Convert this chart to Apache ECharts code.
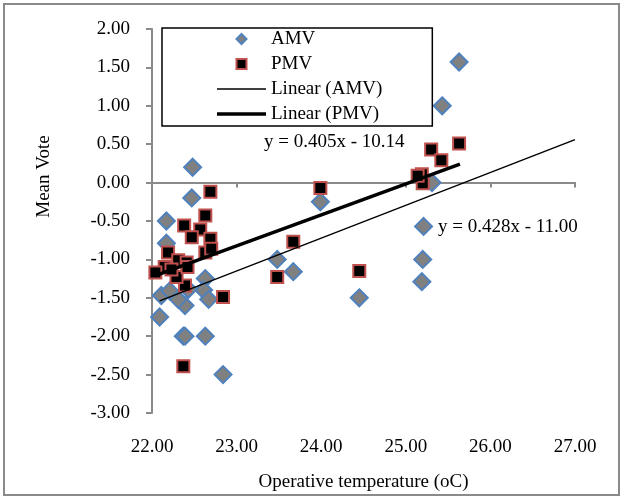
<!DOCTYPE html>
<html>
<head>
<meta charset="utf-8">
<script src="https://cdn.jsdelivr.net/npm/echarts@6/dist/echarts.min.js"></script>
<style>
  html, body { margin: 0; padding: 0; background: #fff; }
  #main { width: 623px; height: 497px; }
</style>
</head>
<body>
<div id="main"></div>
<script>
// 实测 AMV（温度, 投票）
var amvTemp = [25.63, 25.43, 22.48, 22.47, 22.17, 22.17, 23.99, 25.31, 25.21, 25.20, 25.19, 24.45, 23.48, 23.67,
               22.84, 22.63, 22.37, 22.39, 22.09, 22.39, 22.63, 22.61, 22.67, 22.11, 22.21, 22.31, 22.43];
var amvVote = [1.57, 1.00, 0.20, -0.20, -0.50, -0.79, -0.25, 0.00, -0.57, -1.00, -1.29, -1.50, -1.00, -1.16,
               -2.50, -2.00, -2.00, -2.00, -1.75, -1.60, -1.25, -1.40, -1.52, -1.47, -1.41, -1.52, -1.39];
// 预测 PMV
var pmvTemp = [25.63, 25.30, 25.42, 25.19, 25.20, 25.14, 23.99, 23.67, 23.48, 24.45, 22.84, 22.69, 22.63, 22.57,
               22.38, 22.47, 22.69, 22.63, 22.19, 22.37, 22.39, 22.29, 22.31, 22.15, 22.41, 22.04, 22.23, 22.42, 22.70];
var pmvVote = [0.51, 0.43, 0.29, 0.11, -0.01, 0.09, -0.07, -0.77, -1.23, -1.15, -1.49, -0.12, -0.43, -0.61,
               -0.56, -0.71, -0.73, -0.91, -0.91, -2.39, -1.34, -1.23, -1.01, -1.10, -1.04, -1.17, -1.13, -1.10, -0.86];
// 趋势线端点
var amvTrendX = [22.09, 27.00];
var amvTrendY = [-1.54, 0.56];
var pmvTrendX = [22.04, 25.64];
var pmvTrendY = [-1.21, 0.24];
var amvEquation = 'y = 0.428x - 11.00';
var pmvEquation = 'y = 0.405x - 10.14';

function pairs(xs, ys) {
    return xs.map(function (x, i) { return [x, ys[i]]; });
}

var font = 'Liberation Serif';
var axisGray = '#8a8a8a';

var myChart = echarts.init(document.getElementById('main'));
myChart.setOption({
    animation: false,
    backgroundColor: '#fff',
    textStyle: { fontFamily: font },
    grid: { left: 152, right: 48, top: 29, bottom: 83 },
    legend: {
        orient: 'vertical',
        left: 162,
        top: 28,
        // 图例图标用 path，保持比例居中
        data: [
            { name: 'AMV', icon: 'path://M5,0L10,5L5,10L0,5Z' },
            { name: 'PMV', icon: 'path://M0,0H10V10H0Z' },
            { name: 'Linear (AMV)', icon: 'path://M0,0H49V1.5H0Z' },
            { name: 'Linear (PMV)', icon: 'path://M0,0H49V3.5H0Z' }
        ],
        itemWidth: 49,
        itemHeight: 10,
        itemGap: 5,
        padding: [1, 50, 2, 55],
        borderColor: '#000',
        borderWidth: 1.5,
        backgroundColor: '#fff',
        textStyle: { fontFamily: font, fontSize: 19, color: '#000', lineHeight: 20 }
    },
    xAxis: {
        type: 'value',
        min: 22,
        max: 27,
        interval: 1,
        name: 'Operative temperature (oC)',
        nameLocation: 'middle',
        nameGap: 60,
        nameTextStyle: { fontFamily: font, fontSize: 19, color: '#000' },
        axisLine: { lineStyle: { color: axisGray, width: 2 } },
        axisTick: { show: true, length: 5, lineStyle: { color: axisGray, width: 2 } },
        axisLabel: {
            margin: 25, fontFamily: font, fontSize: 19, color: '#000',
            formatter: function (v) { return v.toFixed(2); }
        },
        splitLine: { show: false }
    },
    yAxis: {
        type: 'value',
        min: -3,
        max: 2,
        interval: 0.5,
        name: 'Mean Vote',
        nameLocation: 'middle',
        nameGap: 98,
        nameTextStyle: { fontFamily: font, fontSize: 19, color: '#000', padding: [0, 0, 0, 89] },
        axisLine: { show: true, lineStyle: { color: axisGray, width: 2 } },
        axisTick: { show: true, length: 6, lineStyle: { color: axisGray, width: 2 } },
        axisLabel: {
            margin: 22, fontFamily: font, fontSize: 19, color: '#000',
            formatter: function (v) { return v.toFixed(2); }
        },
        splitLine: { show: false }
    },
    series: [
        {
            name: 'AMV',
            type: 'scatter',
            symbol: 'diamond',
            symbolSize: 17,
            itemStyle: { color: '#808080', borderColor: '#4f81bd', borderWidth: 2, opacity: 1 },
            data: pairs(amvTemp, amvVote)
        },
        {
            name: 'PMV',
            type: 'scatter',
            symbol: 'rect',
            symbolSize: 12,
            itemStyle: { color: '#000', borderColor: '#c0504d', borderWidth: 2, opacity: 1 },
            data: pairs(pmvTemp, pmvVote)
        },
        {
            name: 'Linear (AMV)',
            type: 'line',
            symbol: 'none',
            z: 4,
            lineStyle: { color: '#000', width: 1.5 },
            itemStyle: { color: '#000', borderWidth: 0 },
            data: pairs(amvTrendX, amvTrendY)
        },
        {
            name: 'Linear (PMV)',
            type: 'line',
            symbol: 'none',
            z: 4,
            lineStyle: { color: '#000', width: 3.5 },
            itemStyle: { color: '#000', borderWidth: 0 },
            data: pairs(pmvTrendX, pmvTrendY)
        }
    ],
    graphic: [
        {
            type: 'rect',
            shape: { x: 4, y: 4, width: 615, height: 491 },
            style: { fill: 'none', stroke: '#8a8a8a', lineWidth: 2 },
            silent: true
        },
        {
            type: 'text',
            left: 264,
            top: 133,
            style: { text: pmvEquation, font: '19px "Liberation Serif"', fill: '#000' }
        },
        {
            type: 'text',
            left: 438,
            top: 218,
            style: { text: amvEquation, font: '19px "Liberation Serif"', fill: '#000' }
        }
    ]
});
</script>
</body>
</html>
